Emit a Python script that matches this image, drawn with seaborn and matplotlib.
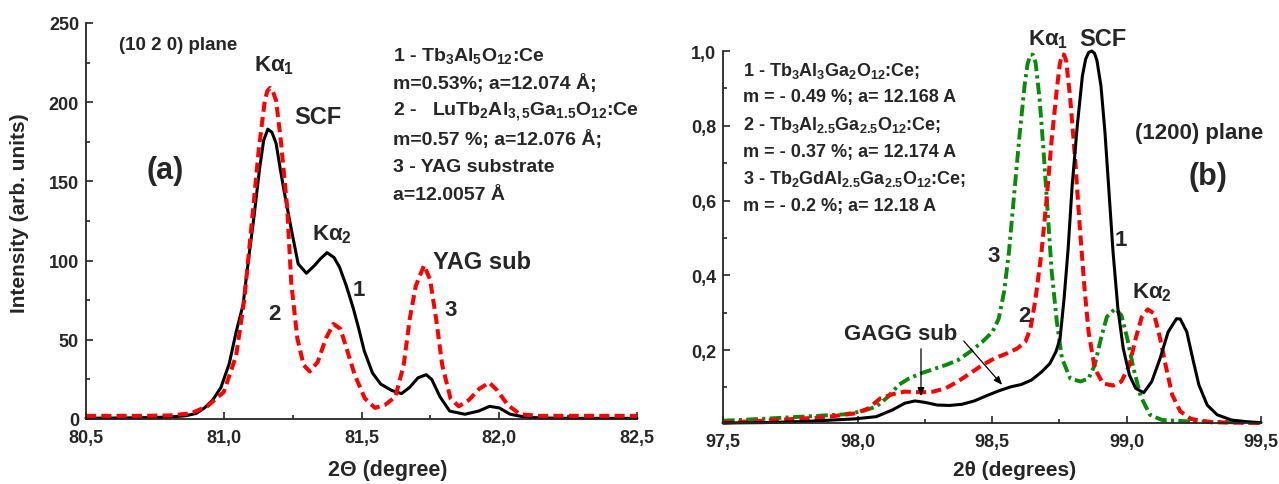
import numpy as np
import pandas as pd
import matplotlib
matplotlib.use("Agg")
import matplotlib.pyplot as plt
from matplotlib.ticker import MultipleLocator, FuncFormatter
import matplotlib.patches as mpatches
import seaborn as sns

# ---------------- data ----------------
# Panel (a): (10 2 0) plane
a_x1 = [80.5, 80.6, 80.7, 80.8, 80.86, 80.9, 80.93, 80.96, 80.99, 81.02, 81.045, 81.07,
        81.09, 81.11, 81.13, 81.145, 81.16, 81.175, 81.19, 81.205, 81.22, 81.245, 81.27, 81.3, 81.33,
        81.35, 81.375, 81.4, 81.42, 81.445, 81.47, 81.49, 81.51, 81.54, 81.57, 81.61, 81.645,
        81.675, 81.705, 81.735, 81.755, 81.785, 81.82, 81.875, 81.925, 81.965, 82.0, 82.04,
        82.1, 82.2, 82.3, 82.4, 82.5]
a_y1 = [0.5, 0.6, 0.8, 1.2, 2, 3.5, 7, 12, 20, 35, 55, 72,
        101, 128, 158, 176, 183, 181, 174, 158, 143, 120, 98, 92, 97,
        101, 105, 102, 96, 84, 70, 57, 43, 29, 22, 18, 16,
        20, 26, 28, 25, 14, 5, 3, 5, 8, 7, 3,
        1, 0.5, 0.4, 0.4, 0.4]

a_x2 = [80.5, 80.6, 80.7, 80.8, 80.88, 80.94, 81.0, 81.045, 81.075, 81.104, 81.127, 81.149,
        81.158, 81.168, 81.178, 81.19, 81.207, 81.23, 81.245, 81.267, 81.29, 81.312, 81.341, 81.371, 81.398,
        81.423, 81.445, 81.475, 81.512, 81.549, 81.586, 81.623, 81.653, 81.675, 81.697,
        81.727, 81.749, 81.771, 81.793, 81.823, 81.853, 81.89, 81.927, 81.964, 81.993,
        82.03, 82.075, 82.14, 82.25, 82.35, 82.5]
a_y2 = [2, 2, 2, 2.2, 3.5, 8, 17, 40, 76, 128, 170, 201,
        207, 209, 207, 201, 176, 134, 86, 51, 34, 30, 36, 51, 60,
        57, 45, 28, 13, 7, 9, 14, 34, 63, 84,
        97, 88, 63, 34, 13, 8, 12, 19, 23, 18,
        9, 3, 2, 2, 2, 2]

# Panel (b): (1200) plane
b_x1 = [97.5, 97.65, 97.8, 97.99, 98.07, 98.13, 98.176, 98.214, 98.252, 98.297, 98.343,
        98.388, 98.434, 98.48, 98.525, 98.571, 98.609, 98.647, 98.685, 98.715, 98.738,
        98.753, 98.768, 98.783, 98.798, 98.817, 98.836, 98.848, 98.859, 98.871, 98.881, 98.89, 98.905,
        98.92, 98.935, 98.95, 98.968, 98.988, 99.011, 99.034, 99.064, 99.094, 99.125,
        99.155, 99.186, 99.2, 99.224, 99.246, 99.269, 99.3, 99.337, 99.39, 99.467, 99.5]
b_y1 = [0.005, 0.006, 0.009, 0.016, 0.022, 0.04, 0.058, 0.064, 0.06, 0.053, 0.052,
        0.055, 0.064, 0.078, 0.091, 0.102, 0.108, 0.12, 0.142, 0.164, 0.196,
        0.231, 0.338, 0.471, 0.64, 0.8, 0.933, 0.978, 0.996, 1.0, 0.994, 0.975, 0.907,
        0.782, 0.622, 0.462, 0.311, 0.204, 0.133, 0.098, 0.086, 0.116, 0.178,
        0.249, 0.284, 0.283, 0.249, 0.178, 0.107, 0.053, 0.027, 0.013, 0.007, 0.006]

b_x2 = [97.5, 97.644, 97.872, 97.994, 98.04, 98.085, 98.13, 98.176, 98.237, 98.282, 98.328,
        98.373, 98.419, 98.464, 98.51, 98.555, 98.593, 98.624, 98.643, 98.662, 98.684,
        98.703, 98.722, 98.741, 98.752, 98.76, 98.768, 98.776, 98.791, 98.809, 98.826, 98.844, 98.859,
        98.882, 98.912, 98.95, 98.981, 99.011, 99.034, 99.057, 99.079, 99.102, 99.125,
        99.148, 99.17, 99.2, 99.239, 99.315, 99.5]
b_y2 = [0.006, 0.011, 0.02, 0.031, 0.044, 0.071, 0.082, 0.089, 0.087, 0.089, 0.098,
        0.116, 0.138, 0.16, 0.178, 0.191, 0.204, 0.222, 0.258, 0.338, 0.462,
        0.604, 0.764, 0.898, 0.965, 0.991, 0.99, 0.973, 0.871, 0.711, 0.533, 0.364, 0.249,
        0.151, 0.111, 0.105, 0.116, 0.16, 0.231, 0.289, 0.309, 0.298, 0.231,
        0.151, 0.08, 0.036, 0.016, 0.007, 0.005]

b_x3 = [97.5, 97.644, 97.796, 97.948, 98.016, 98.07, 98.115, 98.153, 98.191, 98.237, 98.282,
        98.328, 98.373, 98.419, 98.464, 98.502, 98.525, 98.545, 98.563, 98.583, 98.601,
        98.621, 98.632, 98.643, 98.652, 98.662, 98.677, 98.692, 98.707, 98.722, 98.741, 98.76,
        98.791, 98.829, 98.859, 98.882, 98.905, 98.927, 98.958, 98.981, 99.003, 99.026,
        99.053, 99.087, 99.132, 99.239, 99.39, 99.5]
b_y3 = [0.011, 0.016, 0.022, 0.028, 0.036, 0.049, 0.076, 0.107, 0.124, 0.138, 0.149,
        0.16, 0.173, 0.196, 0.222, 0.249, 0.284, 0.356, 0.462, 0.622, 0.764,
        0.907, 0.965, 0.99, 0.99, 0.969, 0.871, 0.729, 0.569, 0.409, 0.276, 0.178,
        0.124, 0.116, 0.124, 0.16, 0.231, 0.289, 0.311, 0.293, 0.231, 0.151,
        0.076, 0.027, 0.013, 0.009, 0.007, 0.005]

a_xticks = [80.5, 81.0, 81.5, 82.0, 82.5]
a_yticks = [0, 50, 100, 150, 200, 250]
b_xticks = [97.5, 98.0, 98.5, 99.0, 99.5]
b_yticks = [0.2, 0.4, 0.6, 0.8, 1.0]

legend_a = [r"1 - Tb$_{3}$Al$_{5}$O$_{12}$:Ce",
            "m=0.53%; a=12.074 Å;",
            r"2 -   LuTb$_{2}$Al$_{3,5}$Ga$_{1.5}$O$_{12}$:Ce",
            "m=0.57 %; a=12.076 Å;",
            "3 - YAG substrate",
            "a=12.0057 Å"]
legend_b = [r"1 - Tb$_{3}$Al$_{3}$Ga$_{2}$O$_{12}$:Ce;",
            "m = - 0.49 %; a= 12.168 A",
            r"2 - Tb$_{3}$Al$_{2.5}$Ga$_{2.5}$O$_{12}$:Ce;",
            "m = - 0.37 %; a= 12.174 A",
            r"3 - Tb$_{2}$GdAl$_{2.5}$Ga$_{2.5}$O$_{12}$:Ce;",
            "m = - 0.2 %; a= 12.18 A"]

# ---------------- style ----------------
sns.set_theme(style="ticks")
plt.rcParams["font.family"] = ["Liberation Sans", "DejaVu Sans"]
plt.rcParams["font.weight"] = "bold"
plt.rcParams["mathtext.fontset"] = "custom"
plt.rcParams["mathtext.rm"] = "Liberation Sans:bold"
plt.rcParams["mathtext.it"] = "Liberation Sans:bold"
plt.rcParams["mathtext.bf"] = "Liberation Sans:bold"
plt.rcParams["axes.linewidth"] = 1.3

W, H = 1279, 485
fig = plt.figure(figsize=(W / 100, H / 100), dpi=100)


def px_axes(x0, y0, x1, y1):
    return fig.add_axes([x0 / W, 1 - y1 / H, (x1 - x0) / W, (y1 - y0) / H])


def ftext(x, y, s, size, **kw):
    fig.text(x / W, 1 - y / H, s, fontsize=size, fontweight="bold",
             ha=kw.pop("ha", "left"), va=kw.pop("va", "center"), **kw)


comma = FuncFormatter(lambda v, p: f"{v:.1f}".replace(".", ","))

axA = px_axes(86, 24, 637, 420)
axB = px_axes(723, 52, 1261, 424)

RED = "#ff0000"
GREEN = "#0a8a0a"

sns.lineplot(x=a_x1, y=a_y1, ax=axA, color="black", lw=2.2, estimator=None, sort=False, clip_on=False)
sns.lineplot(x=a_x2, y=a_y2, ax=axA, color=RED, lw=2.9, estimator=None, sort=False, clip_on=False)
axA.lines[-1].set_dashes([2.5, 1.3])

sns.lineplot(x=b_x3, y=b_y3, ax=axB, color=GREEN, lw=2.8, estimator=None, sort=False, clip_on=False)
axB.lines[-1].set_dashes([3.0, 1.1, 0.8, 1.1])
sns.lineplot(x=b_x2, y=b_y2, ax=axB, color=RED, lw=2.9, estimator=None, sort=False, clip_on=False)
axB.lines[-1].set_dashes([2.5, 1.3])
sns.lineplot(x=b_x1, y=b_y1, ax=axB, color="black", lw=2.2, estimator=None, sort=False, clip_on=False)

for ax in (axA, axB):
    sns.despine(ax=ax)
    ax.tick_params(which="both", direction="in", labelsize=13, width=1.2)
    ax.tick_params(which="major", length=5)
    ax.tick_params(which="minor", length=3)
    ax.tick_params(axis="x", pad=7)
    ax.tick_params(axis="y", pad=5)
    ax.set_xlabel("")
    ax.set_ylabel("")

axA.set_xlim(80.5, 82.5)
axA.set_ylim(0, 250)
axA.set_xticks(a_xticks)
axA.set_yticks(a_yticks)
axA.xaxis.set_minor_locator(MultipleLocator(0.25))
axA.yaxis.set_minor_locator(MultipleLocator(25))
axA.xaxis.set_major_formatter(comma)

axB.set_xlim(97.5, 99.5)
axB.set_ylim(0.005, 1.0)
axB.set_xticks(b_xticks)
axB.set_yticks(b_yticks)
axB.xaxis.set_minor_locator(MultipleLocator(0.25))
axB.yaxis.set_minor_locator(MultipleLocator(0.1))
axB.xaxis.set_major_formatter(comma)
axB.yaxis.set_major_formatter(comma)
for ax in (axA, axB):
    for lab in ax.get_xticklabels() + ax.get_yticklabels():
        lab.set_fontweight("bold")

# axis titles
ftext(20, 213, "Intensity (arb. units)", 15, rotation=90, ha="center")
ftext(388, 471, "2Θ (degree)", 15.5, ha="center")
ftext(1015, 471, "2θ (degrees)", 15, ha="center")

# legend blocks
for i, s in enumerate(legend_a):
    ftext(393, 56 + 28 * i, s, 14)
for i, s in enumerate(legend_b):
    ftext(743, 71 + 27 * i, s, 13)

# panel (a) annotations
ftext(119, 45, "(10 2 0) plane", 13.5)
ftext(254, 66, r"Kα$_{1}$", 16)
ftext(294, 117, "SCF", 17)
ftext(147, 171, "(a)", 22)
ftext(312, 235, r"Kα$_{2}$", 16)
ftext(433, 263, "YAG sub", 17)
ftext(353, 290, "1", 16)
ftext(268, 315, "2", 16)
ftext(444, 311, "3", 16)

# panel (b) annotations
ftext(1028, 40, r"Kα$_{1}$", 16)
ftext(1079, 39, "SCF", 17)
ftext(1135, 134, "(1200) plane", 16)
ftext(1189, 177, "(b)", 22)
ftext(1115, 241, "1", 16)
ftext(987, 257, "3", 16)
ftext(1018, 317, "2", 16)
ftext(1132, 293, r"Kα$_{2}$", 16)
ftext(844, 334, "GAGG sub", 16)

# arrows from "GAGG sub" label (figure pixel coords)
for (x0, y0, x1, y1) in [(921, 347, 921, 400), (962, 340, 1004, 388)]:
    fig.add_artist(mpatches.FancyArrowPatch(
        (x0 / W, 1 - y0 / H), (x1 / W, 1 - y1 / H), transform=fig.transFigure,
        arrowstyle="-|>,head_length=5,head_width=2", color="black", lw=0.9))

fig.savefig("out.png", dpi=100)
